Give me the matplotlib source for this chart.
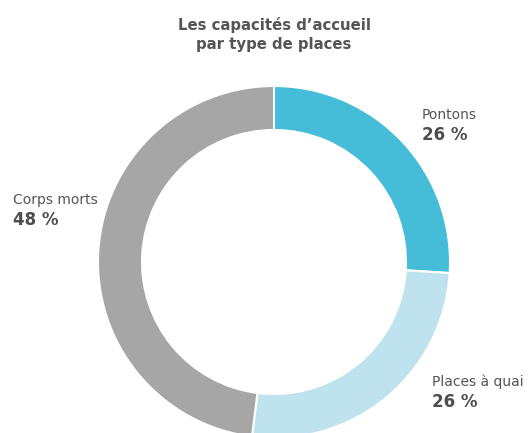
import matplotlib.pyplot as plt

# Data
labels = ["Pontons", "Places à quai", "Corps morts"]
shares = [26, 26, 48]
colors = ["#45bdd9", "#bee3ee", "#a6a6a6"]

W, H = 531, 433
fig = plt.figure(figsize=(W / 100, H / 100), dpi=100)
ax = fig.add_axes([0, 0, 1, 1])

# donut (pixel coordinates, y measured from the bottom)
ax.pie(shares, colors=colors, startangle=90, counterclock=False,
       center=(274, H - 262), radius=176,
       wedgeprops=dict(width=44, edgecolor="white", linewidth=1.5))
ax.set_xlim(0, W)
ax.set_ylim(0, H)
ax.set_aspect("equal")
ax.axis("off")

plt.rcParams["font.family"] = ["DejaVu Sans"]
txt = "#555555"

ax.text(274, H - 25, "Les capacités d\u2019accueil", ha="center", va="center",
        fontsize=10.7, fontweight="bold", color=txt)
ax.text(274, H - 45, "par type de places", ha="center", va="center",
        fontsize=10.7, fontweight="bold", color=txt)

# label positions (left edge, y of name)
label_pos = [(422, 115), (432, 382), (13, 200)]
for name, pct, (x, y) in zip(labels, shares, label_pos):
    ax.text(x, H - y, name, ha="left", va="center", fontsize=10, color=txt)
    ax.text(x, H - y - 20, f"{pct} %", ha="left", va="center",
            fontsize=12, fontweight="bold", color="#4d4d4d")

fig.savefig("out.png", dpi=100)
